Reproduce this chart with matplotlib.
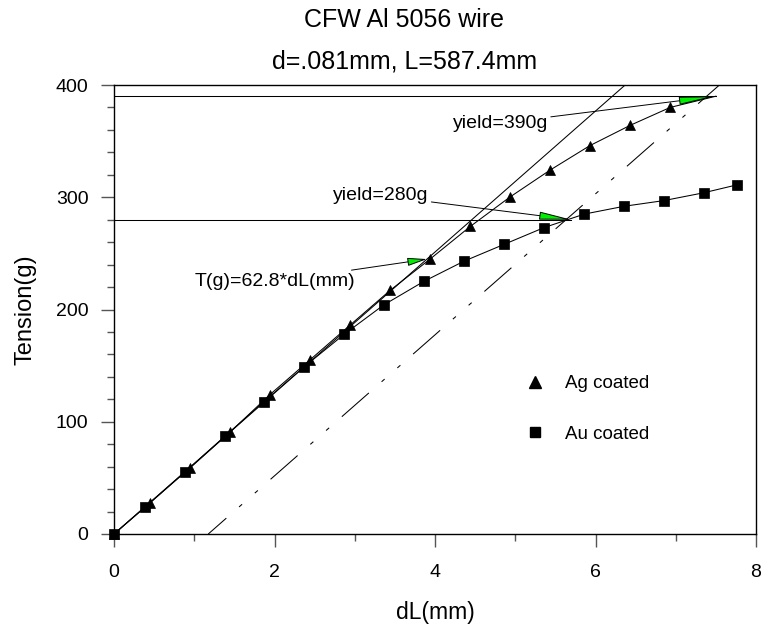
import numpy as np
import matplotlib
matplotlib.use('Agg')
import matplotlib.pyplot as plt
from matplotlib.lines import Line2D
from matplotlib.ticker import MultipleLocator

plt.rcParams['font.family'] = ['Liberation Sans', 'DejaVu Sans']
plt.rcParams['lines.scale_dashes'] = False

# CFW Al 5056 wire, d=.081mm, L=587.4mm
wire_len = 587.4
slope = 62.8                  # T(g) per dL(mm), elastic fit
offset = 0.002 * wire_len     # 0.2% offset line

# Ag coated wire
ag_dl = [0, 0.45, 0.95, 1.45, 1.94, 2.44, 2.94, 3.44, 3.94, 4.44, 4.93, 5.43, 5.93, 6.43, 6.93]
ag_t = [0, 28, 59, 91, 124, 155, 186, 217, 245, 274, 300, 324, 346, 364, 380]

# Au coated wire
au_dl = [0, 0.39, 0.88, 1.38, 1.87, 2.37, 2.87, 3.36, 3.86, 4.36, 4.86, 5.36, 5.86, 6.36, 6.85, 7.35, 7.76]
au_t = [0, 24, 55, 87, 118, 149, 178, 204, 225, 243, 258, 273, 285, 292, 297, 304, 311]

# yield points (Au, Ag)
yield_dl = [5.70, 7.50]
yield_t = [280, 390]
yield_labels = ['yield=280g', 'yield=390g']
yield_text_pos = [(2.73, 297.5), (4.22, 362)]

fit_label = 'T(g)=62.8*dL(mm)'
fit_arrow_dl = 3.90
fit_text_pos = (1.0, 221)

fig = plt.figure(figsize=(7.63, 6.26), dpi=100)
ax = fig.add_axes([114 / 763, 92 / 626, 642 / 763, 449 / 626])

# elastic fit and 0.2% offset line
fit_x = np.array([0, 420 / slope])
ax.plot(fit_x, slope * fit_x, color='black', lw=0.75)
off_x = np.array([offset, offset + 420 / slope])
ax.plot(off_x, slope * (off_x - offset), color='black', lw=0.75,
        linestyle=(8.6, (25.9, 12.2, 2.9, 12.2, 2.9, 12.2)))

# horizontal lines at yield tension
for yx, yt in zip(yield_dl, yield_t):
    ax.plot([0, yx], [yt, yt], color='black', lw=0.75)

# data series; Ag curve runs on to its yield point
ax.plot(ag_dl + [yield_dl[1]], ag_t + [yield_t[1]], color='black', lw=0.75)
ax.plot(ag_dl, ag_t, ls='none', marker='^', ms=7.5, mfc='black', mec='black',
        mew=0.5, clip_on=False)
ax.plot(au_dl, au_t, color='black', lw=0.75, marker='s', ms=7, mfc='black',
        mec='black', mew=0.5, clip_on=False)

# annotations with green arrow heads
arrow_kw = dict(fc='#00ee00', ec='black', lw=0.7, shrinkA=0, shrinkB=0,
                mutation_scale=10)
heads = [2.0, 2.3]
for yx, yt, lab, pos, hl in zip(yield_dl, yield_t, yield_labels, yield_text_pos, heads):
    ax.annotate(lab, xy=(yx, yt), xytext=pos, ha='left', va='baseline',
                fontsize=14,
                arrowprops=dict(arrowstyle=f'-|>,head_length={hl},head_width=0.25',
                                **arrow_kw))
ax.annotate(fit_label, xy=(fit_arrow_dl, slope * fit_arrow_dl), xytext=fit_text_pos,
            ha='left', va='baseline', fontsize=14,
            arrowprops=dict(arrowstyle='-|>,head_length=1.2,head_width=0.25',
                            **arrow_kw))

ax.set_xlim(0, 8)
ax.set_ylim(0, 400)
ax.xaxis.set_major_locator(MultipleLocator(2))
ax.xaxis.set_minor_locator(MultipleLocator(1))
ax.yaxis.set_major_locator(MultipleLocator(100))
ax.yaxis.set_minor_locator(MultipleLocator(20))
ax.tick_params(which='both', direction='out', color='#555555', width=1,
               labelsize=14, labelcolor='black')
ax.tick_params(which='major', length=9.4)
ax.tick_params(which='minor', length=5)
ax.tick_params(axis='x', which='major', pad=12)
ax.tick_params(axis='y', which='major', pad=9)
for sp in ax.spines.values():
    sp.set_linewidth(1.0)
    sp.set_color('black')

ax.set_xlabel('dL(mm)', fontsize=16.5, va='center')
ax.xaxis.set_label_coords(0.5, -78 / 449)
ax.set_ylabel('Tension(g)', fontsize=17, va='center')
ax.yaxis.set_label_coords(-89 / 642, 0.5)

fig.text(404.5 / 763, 1 - 20 / 626, 'CFW Al 5056 wire', ha='center', va='center',
         fontsize=18)
fig.text(404.5 / 763, 1 - 62 / 626, 'd=.081mm, L=587.4mm', ha='center', va='center',
         fontsize=18)

handles = [Line2D([], [], ls='none', marker='^', ms=8, color='black'),
           Line2D([], [], ls='none', marker='s', ms=7.5, color='black')]
ax.legend(handles, ['Ag coated', 'Au coated'], loc='upper left',
          bbox_to_anchor=(0.641, 0.354), frameon=False, fontsize=13.5,
          handlelength=1.0, handletextpad=1.1, labelspacing=1.78,
          borderpad=0, borderaxespad=0)

fig.savefig('out.png', dpi=100)
